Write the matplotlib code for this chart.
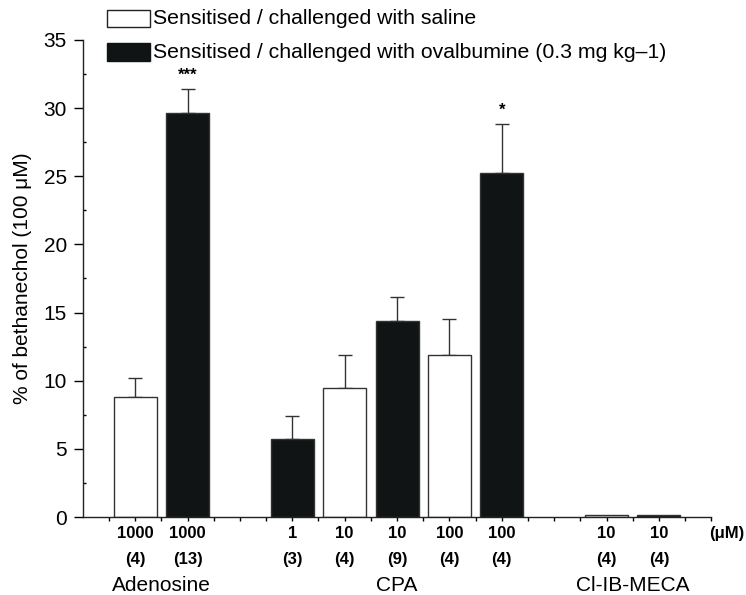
import matplotlib
matplotlib.use("Agg")
import matplotlib.pyplot as plt
from matplotlib.patches import Rectangle

plt.rcParams["font.family"] = ["Liberation Sans", "DejaVu Sans"]

# bar slots (one unit per slot)
positions = [0, 1, 3, 4, 5, 6, 7, 9, 10]
values = [8.8, 29.65, 5.7, 9.45, 14.4, 11.85, 25.25, 0.12, 0.12]
errors = [1.4, 1.75, 1.7, 2.45, 1.75, 2.7, 3.55, 0.0, 0.0]
groups = ["saline", "ova", "ova", "saline", "ova", "saline", "ova", "saline", "ova"]
conc_labels = ["1000", "1000", "1", "10", "10", "100", "100", "10", "10"]
n_labels = ["(4)", "(13)", "(3)", "(4)", "(9)", "(4)", "(4)", "(4)", "(4)"]
drug_names = ["Adenosine", "CPA", "Cl-IB-MECA"]
drug_centers = [0.5, 5, 9.5]
stars = {1: "***", 6: "*"}

legend_labels = ["Sensitised / challenged with saline",
                 "Sensitised / challenged with ovalbumine (0.3 mg kg\u20131)"]

BLACK = "#111414"
EDGE = "#333333"

fig = plt.figure(figsize=(7.46, 5.95), dpi=100)
ax = fig.add_axes([0.111, 0.131, 0.846, 0.802])

for x, v, e, g in zip(positions, values, errors, groups):
    face = "white" if g == "saline" else BLACK
    ax.bar(x, v, width=0.82, color=face, edgecolor=EDGE, linewidth=1.0, zorder=2)
    if e > 0:
        ax.errorbar(x, v, yerr=[[0], [e]], fmt="none", ecolor="#333333",
                    elinewidth=1.0, capsize=5, capthick=1.0, zorder=1)

for i, s in stars.items():
    ax.text(positions[i], values[i] + errors[i] + 0.45, s, ha="center",
            va="bottom", fontsize=12, fontweight="bold")

ax.set_xlim(-1, 11.05)
ax.set_ylim(0, 35)
ax.spines["top"].set_visible(False)
ax.spines["right"].set_visible(False)
ax.spines["left"].set_bounds(0, 35)
ax.spines["bottom"].set_bounds(-1, 11)
for sp in ["left", "bottom"]:
    ax.spines[sp].set_color("#222222")
    ax.spines[sp].set_linewidth(1.0)

ax.set_yticks(range(0, 36, 5))
ax.set_yticks([y + 2.5 for y in range(0, 35, 5)], minor=True)
ax.tick_params(axis="y", which="major", direction="out", length=6.5,
               labelsize=15, width=1, pad=5)
ax.tick_params(axis="y", which="minor", direction="in", length=2.5, width=1)

ax.set_xticks([x * 0.5 for x in range(-1, 23)])
ax.set_xticklabels([])
ax.tick_params(axis="x", which="major", direction="out", length=3, width=1)

ax.set_ylabel("% of bethanechol (100 \u03bcM)", fontsize=15, labelpad=8)

tr = ax.get_xaxis_transform()
for x, c, n in zip(positions, conc_labels, n_labels):
    ax.text(x, -0.034, c, transform=tr, ha="center", va="center",
            fontsize=12, fontweight="bold")
    ax.text(x, -0.088, n, transform=tr, ha="center", va="center",
            fontsize=12, fontweight="bold")
ax.text(11.3, -0.034, "(\u03bcM)", transform=tr, ha="center", va="center",
        fontsize=12, fontweight="bold", clip_on=False)
for name, xc in zip(drug_names, drug_centers):
    ax.text(xc, -0.143, name, transform=tr, ha="center", va="center",
            fontsize=15)

# legend drawn as figure patches
W, H = 746.0, 595.0
fig.patches.append(Rectangle((107 / W, 1 - 27 / H), 43 / W, 17 / H,
                             transform=fig.transFigure, facecolor="white",
                             edgecolor="#222222", linewidth=1.0))
fig.patches.append(Rectangle((107 / W, 1 - 61 / H), 43 / W, 18 / H,
                             transform=fig.transFigure, facecolor=BLACK,
                             edgecolor=BLACK, linewidth=1.0))
fig.text(153 / W, 1 - 18 / H, legend_labels[0], ha="left", va="center",
         fontsize=15.3)
fig.text(153 / W, 1 - 52 / H, legend_labels[1], ha="left", va="center",
         fontsize=15.3)

fig.savefig("out.png", dpi=100)
